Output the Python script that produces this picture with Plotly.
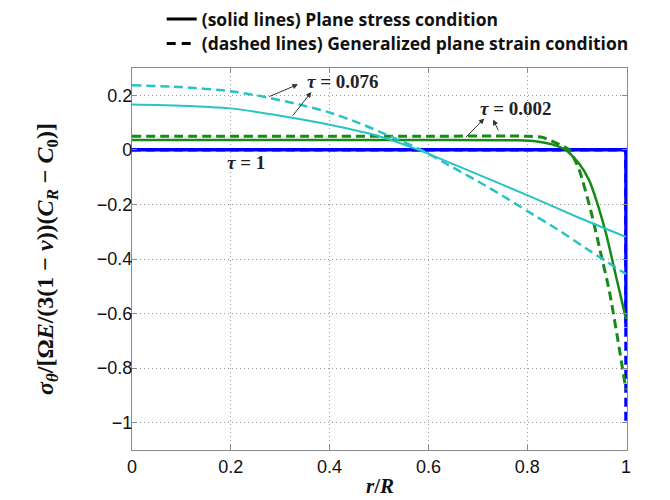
import plotly.graph_objects as go

# ---------------- data ----------------
# tau = 0.076 (cyan)
r_cyan_ps = [0, 0.1, 0.2, 0.3, 0.4, 0.5, 0.58, 0.7, 0.8, 0.9, 1.0]
s_cyan_ps = [0.166, 0.162, 0.152, 0.125, 0.092, 0.05, 0.0, -0.09, -0.166, -0.245, -0.319]

r_cyan_gps = [0, 0.1, 0.2, 0.26, 0.33, 0.4, 0.46, 0.52, 0.585, 0.64, 0.7, 0.75, 0.8, 0.86, 0.93, 1.0]
s_cyan_gps = [0.237, 0.23, 0.215, 0.197, 0.17, 0.137, 0.098, 0.052, 0.0, -0.055, -0.115, -0.168,
              -0.224, -0.29, -0.374, -0.455]

# tau = 0.002 (green)
r_green_ps = [0, 0.2, 0.4, 0.6, 0.78, 0.82, 0.85, 0.878, 0.905, 0.925, 0.94, 0.96, 0.98, 1.0]
s_green_ps = [0.036, 0.036, 0.036, 0.036, 0.035, 0.031, 0.02, 0.0, -0.05, -0.11, -0.185, -0.31, -0.465, -0.62]

r_green_gps = [0, 0.2, 0.4, 0.6, 0.8, 0.83, 0.865, 0.885, 0.905, 0.929, 0.949, 0.966, 0.982, 1.0]
s_green_gps = [0.05, 0.05, 0.05, 0.05, 0.05, 0.046, 0.02, 0.0, -0.072, -0.225, -0.38, -0.515, -0.68, -0.88]

# tau = 0 (blue)
r_blue_ps = [0, 1, 1]
s_blue_ps = [0, 0, -0.65]
r_blue_gps = [0, 1, 1]
s_blue_gps = [0, 0, -1.0]

# tau = 1 (steady state)
r_tau1 = [0, 1]
s_tau1 = [0, 0]

x_ticks = [0, 0.2, 0.4, 0.6, 0.8, 1]
x_ticklabels = ["0", "0.2", "0.4", "0.6", "0.8", "1"]
y_ticks = [0.2, 0, -0.2, -0.4, -0.6, -0.8, -1]
y_ticklabels = ["0.2", "0", "\u22120.2", "\u22120.4", "\u22120.6", "\u22120.8", "\u22121"]

legend_labels = ["<b>(solid lines) Plane stress condition</b>",
                 "<b>(dashed lines) Generalized plane strain condition</b>"]

CYAN = "#2ac3c3"
GREEN = "#178a17"
BLUE = "#0000ff"
DASH = "9px,5px"

fig = go.Figure()

fig.add_trace(go.Scatter(x=r_tau1, y=s_tau1, mode="lines",
                         line=dict(color="#555555", width=1.5), showlegend=False))
fig.add_trace(go.Scatter(x=r_blue_gps, y=s_blue_gps, mode="lines",
                         line=dict(color=BLUE, width=3.5, dash=DASH), showlegend=False))
fig.add_trace(go.Scatter(x=r_blue_ps, y=s_blue_ps, mode="lines",
                         line=dict(color=BLUE, width=3.5), showlegend=False))
fig.add_trace(go.Scatter(x=r_green_gps, y=s_green_gps, mode="lines", line_shape="spline",
                         line=dict(color=GREEN, width=3, dash=DASH, smoothing=0.6), showlegend=False))
fig.add_trace(go.Scatter(x=r_green_ps, y=s_green_ps, mode="lines", line_shape="spline",
                         line=dict(color=GREEN, width=2.5, smoothing=0.6), showlegend=False))
fig.add_trace(go.Scatter(x=r_cyan_gps, y=s_cyan_gps, mode="lines", line_shape="spline",
                         line=dict(color=CYAN, width=2.5, dash=DASH, smoothing=0.6), showlegend=False))
fig.add_trace(go.Scatter(x=r_cyan_ps, y=s_cyan_ps, mode="lines", line_shape="spline",
                         line=dict(color=CYAN, width=2, smoothing=0.6), showlegend=False))

# legend entries (two legends to control placement)
fig.add_trace(go.Scatter(x=[None], y=[None], mode="lines", name=legend_labels[0],
                         line=dict(color="black", width=3), legend="legend"))
fig.add_trace(go.Scatter(x=[None], y=[None], mode="lines", name=legend_labels[1],
                         line=dict(color="black", width=3, dash="9px,6px"), legend="legend2"))

serif = "Liberation Serif"
ann_font = dict(family=serif, size=19, color="#222")
annotations = [
    dict(x=0.427, y=0.252, text="<b><i>τ</i> = 0.076</b>", showarrow=False, font=ann_font),
    dict(x=0.777, y=0.151, text="<b><i>τ</i> = 0.002</b>", showarrow=False, font=ann_font),
    dict(x=0.23, y=-0.045, text="<b><i>τ</i> = 1</b>", showarrow=False, font=ann_font),
    dict(x=1.02, y=-0.185, text="<b><i>τ</i> = 0</b>", showarrow=False, font=ann_font),
    # x-axis title
    dict(x=0.5, y=-0.094, xref="paper", yref="paper", xanchor="center", yanchor="middle",
         text="<b><i>r</i>/<i>R</i></b>", showarrow=False,
         font=dict(family=serif, size=21, color="#111")),
]
arrows = [
    ((0.336, 0.240), (0.275, 0.193)),
    ((0.363, 0.212), (0.323, 0.120)),
    ((0.713, 0.115), (0.673, 0.041)),
    ((0.731, 0.111), (0.743, 0.066)),
]
for (hx, hy), (tx, ty) in arrows:
    annotations.append(dict(x=hx, y=hy, ax=tx, ay=ty, xref="x", yref="y", axref="x", ayref="y",
                            text="", showarrow=True, arrowhead=2, arrowsize=1.1, arrowwidth=1,
                            arrowcolor="#333", standoff=0, startstandoff=0))

leg_font = dict(family="Open Sans", size=17.5, color="#111")
# the page body adds an 8px margin, so the figure is sized 8px smaller
fig.update_layout(
    width=662, height=492,
    margin=dict(l=124, r=43, t=60, b=50, autoexpand=False),
    paper_bgcolor="white", plot_bgcolor="white",
    annotations=annotations,
    legend=dict(x=0.06, y=1.128, xanchor="left", yanchor="middle", bgcolor="rgba(0,0,0,0)",
                font=leg_font, borderwidth=0, tracegroupgap=0),
    legend2=dict(x=0.06, y=1.064, xanchor="left", yanchor="middle", bgcolor="rgba(0,0,0,0)",
                 font=leg_font, borderwidth=0, tracegroupgap=0),
    font=dict(family="Liberation Sans", size=18, color="#111"),
)

axis_common = dict(showline=True, linecolor="#8a8a8a", linewidth=1.2, mirror="ticks",
                   ticks="inside", ticklen=5, tickcolor="#8a8a8a",
                   showgrid=True, gridcolor="#9a9a9a", gridwidth=1, griddash="1px,3px",
                   zeroline=False, automargin=False,
                   tickfont=dict(family="Liberation Sans", size=18, color="#111"))

fig.update_xaxes(range=[0, 1.002], tickvals=x_ticks, ticktext=x_ticklabels, **axis_common)
fig.update_yaxes(range=[-1.1, 0.3], tickvals=y_ticks, ticktext=y_ticklabels, ticklabelstandoff=-5,
                 title=dict(text="<b><i>σ</i><sub><i>θ</i></sub>/[Ω<i>E</i>/(3(1 − <i>ν</i>))(<i>C</i><sub><i>R</i></sub> − <i>C</i><sub>0</sub>)]</b>",
                            font=dict(family=serif, size=24, color="#111"), standoff=36),
                 **axis_common)

fig.write_html("out.html")
